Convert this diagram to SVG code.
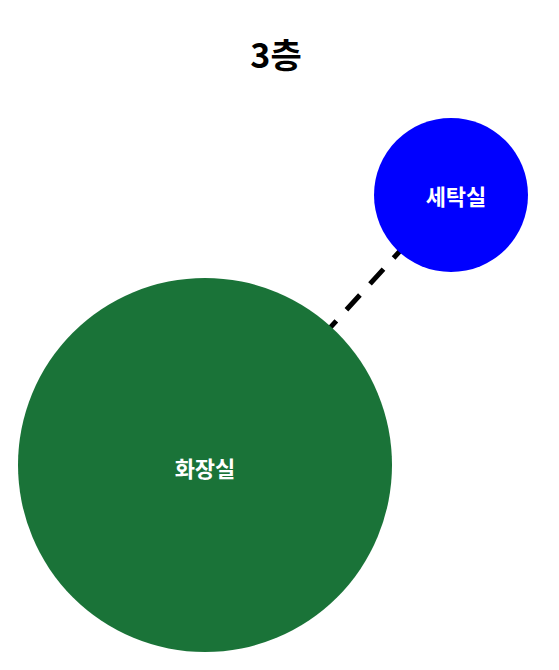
<svg xmlns="http://www.w3.org/2000/svg" width="559" height="670" viewBox="0 0 559 670">
<style>
text{font-family:"Noto Sans CJK KR","Noto Sans",sans-serif;font-weight:bold;text-anchor:middle}
.lbl{fill:#ffffff;font-size:22px}
.title{fill:#000000;font-size:34px}
</style>
<rect width="559" height="670" fill="#ffffff"/>
<text class="title" x="276" y="68">3층</text>
<g id="connectors">
<line x1="205" y1="465" x2="451" y2="195" stroke="#000000" stroke-width="5" stroke-dasharray="20,15"/>
</g>
<g id="node-washroom">
<circle cx="451" cy="195" r="77" fill="#0000ff"/>
<text class="lbl" x="456" y="205">세탁실</text>
</g>
<g id="node-toilet">
<circle cx="205" cy="465" r="187" fill="#1a7338"/>
<text class="lbl" x="205" y="477">화장실</text>
</g>
</svg>
